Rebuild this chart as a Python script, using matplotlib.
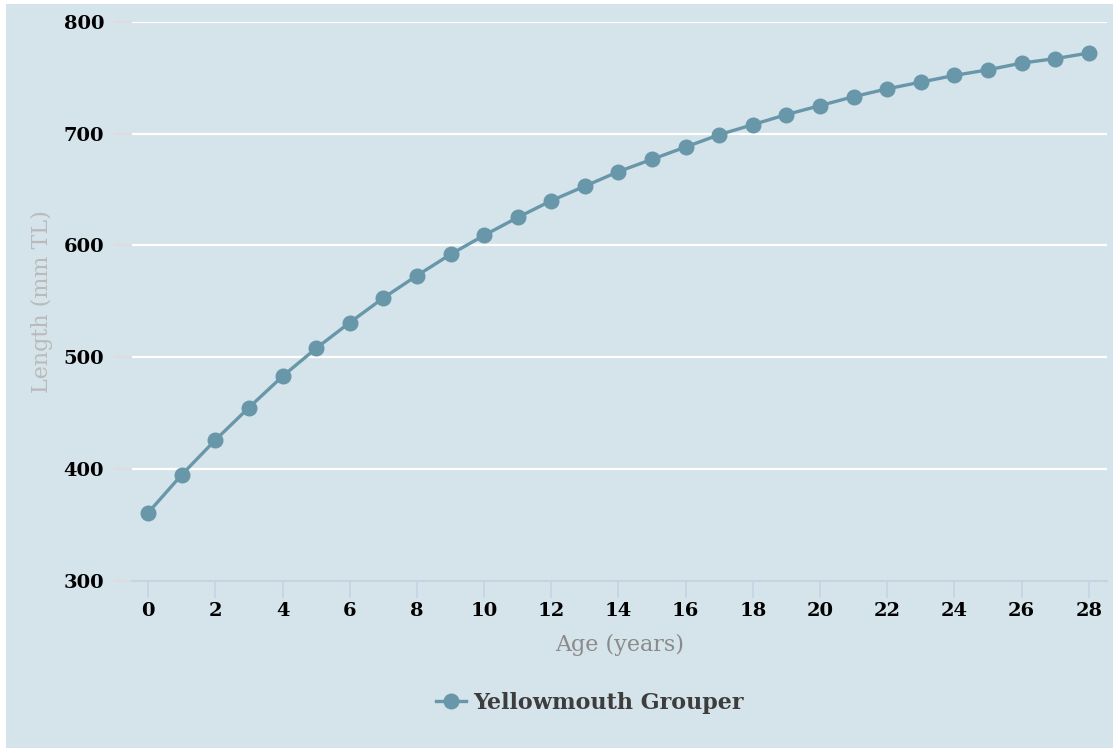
import matplotlib
matplotlib.use('Agg')
import matplotlib.pyplot as plt
from matplotlib.patches import Rectangle

# Age (years) and estimated length (mm TL)
ages = list(range(0, 29))
lengths = [361, 395, 426, 455, 483, 508, 531, 553, 573, 592,
           609, 625, 640, 653, 666, 677, 688, 699, 708, 717,
           725, 733, 740, 746, 752, 757, 763, 767, 772]
series_name = 'Yellowmouth Grouper'
x_ticks = list(range(0, 29, 2))
y_ticks = [300, 400, 500, 600, 700, 800]

BG = '#d5e3ea'
LINE = '#6897aa'


def plot():
    plt.rcParams['font.family'] = ['DejaVu Serif']

    fig = plt.figure(figsize=(11.13, 7.48), dpi=100, facecolor='white')
    # panel background (white strip on top/left like the reference)
    fig.patches.append(Rectangle((6 / 1113, 0), 1, 744 / 748, transform=fig.transFigure,
                                 facecolor=BG, edgecolor='none', zorder=-10))

    ax = fig.add_axes([132 / 1113, 1 - 581 / 748, (1107 - 132) / 1113, (581 - 21.7) / 748])
    ax.set_facecolor('none')

    ax.plot(ages, lengths, color=LINE, linewidth=2.4, marker='o', markersize=10.5,
            label=series_name, clip_on=False, zorder=3)

    ax.set_xlim(-0.48, 28.54)
    ax.set_ylim(300, 800)
    ax.set_xticks(x_ticks)
    ax.set_yticks(y_ticks)

    # grid lines
    for yv in y_ticks[1:]:
        ax.axhline(yv, color='white', linewidth=1.6, zorder=1)

    for s in ['top', 'right', 'left']:
        ax.spines[s].set_visible(False)
    ax.spines['bottom'].set_color('#c5d3e3')
    ax.spines['bottom'].set_linewidth(1.5)

    ax.tick_params(axis='x', length=12, width=1.2, color='#c5d3e3', pad=3,
                   labelsize=14, labelcolor='black')
    ax.tick_params(axis='y', length=13, width=1.2, color='#e3dada', pad=7,
                   labelsize=14, labelcolor='black')
    for lbl in ax.get_xticklabels() + ax.get_yticklabels():
        lbl.set_fontweight('bold')

    ax.set_xlabel('Age (years)', fontsize=16, color='#8a8a8a', labelpad=10)
    ax.set_ylabel('Length (mm TL)', fontsize=16, color='#bababa')
    ax.yaxis.set_label_coords(-0.081, 0.5)

    leg = fig.legend(loc='center', bbox_to_anchor=(0.53, 1 - 703 / 748), frameon=False,
                     handlelength=1.35, handletextpad=0.35,
                     prop={'weight': 'bold', 'size': 16})
    for t in leg.get_texts():
        t.set_color('#3d3d3d')

    plt.savefig('out.png', dpi=100, facecolor='white')


if __name__ == '__main__':
    plot()
